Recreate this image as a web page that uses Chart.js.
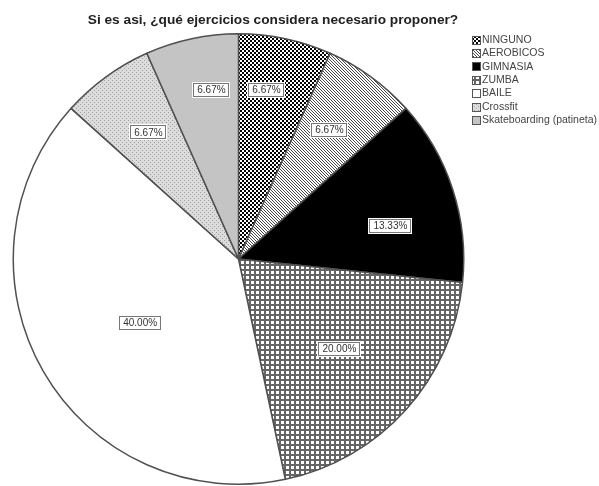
<!DOCTYPE html>
<html lang="es">
<head>
<meta charset="UTF-8">
<title>Ejercicios propuestos</title>
<script src="https://cdn.jsdelivr.net/npm/chart.js"></script>
<style>
  body { margin: 0; background: #fff; }
  canvas { display: block; }
</style>
</head>
<body>
<canvas id="torta" width="599" height="486"></canvas>
<script>
  const titulo = 'Si es asi, ¿qué ejercicios considera necesario proponer?';
  const categorias = ['NINGUNO', 'AEROBICOS', 'GIMNASIA', 'ZUMBA', 'BAILE', 'Crossfit', 'Skateboarding (patineta)'];
  const porcentajes = [6.67, 6.67, 13.33, 20.00, 40.00, 6.67, 6.67];

  // posicion de las etiquetas: fraccion del radio y ajuste de angulo (grados)
  const radioEtiqueta = [0.76, 0.70, 0.69, 0.60, 0.52, 0.69, 0.76];
  const ajusteAngulo = [-2.6, -0.8, 5.8, -0.3, -2.9, 0.6, 2.9];

  const lienzo = document.getElementById('torta');
  const ctx = lienzo.getContext('2d');

  function patron(w, h, dibujar) {
    const c = document.createElement('canvas');
    c.width = w;
    c.height = h;
    dibujar(c.getContext('2d'));
    return ctx.createPattern(c, 'repeat');
  }

  const fondos = [
    patron(4, 4, g => {
      g.fillStyle = '#000'; g.fillRect(0, 0, 4, 4);
      g.fillStyle = '#fff'; g.fillRect(0, 0, 2, 2); g.fillRect(2, 2, 2, 2);
    }),
    patron(3, 3, g => {
      g.fillStyle = '#fff'; g.fillRect(0, 0, 3, 3);
      g.fillStyle = '#4a4a4a';
      for (let i = 0; i < 3; i++) g.fillRect(i, i, 1, 1);
    }),
    '#000',
    patron(5, 5, g => {
      g.fillStyle = '#666'; g.fillRect(0, 0, 5, 5);
      g.fillStyle = '#fff'; g.fillRect(1, 1, 3, 3);
    }),
    '#fff',
    patron(4, 4, g => {
      g.fillStyle = '#dcdcdc'; g.fillRect(0, 0, 4, 4);
      g.fillStyle = '#a0a0a0'; g.fillRect(0, 0, 1, 1); g.fillRect(2, 2, 1, 1);
    }),
    '#c4c4c4'
  ];

  const etiquetas = {
    id: 'etiquetas',
    afterDatasetsDraw(chart) {
      const c = chart.ctx;
      const arcos = chart.getDatasetMeta(0).data;
      c.save();
      c.font = '10px "Liberation Sans", Arial, sans-serif';
      c.textAlign = 'center';
      c.textBaseline = 'middle';
      arcos.forEach((arco, i) => {
        const p = arco.getProps(['x', 'y', 'startAngle', 'endAngle', 'outerRadius'], true);
        const a = (p.startAngle + p.endAngle) / 2 + ajusteAngulo[i] * Math.PI / 180;
        const r = p.outerRadius * radioEtiqueta[i];
        const px = p.x + Math.cos(a) * r;
        const py = p.y + Math.sin(a) * r;
        const txt = porcentajes[i].toFixed(2) + '%';
        const w = Math.round(c.measureText(txt).width + 10);
        const h = 16;
        const x0 = Math.round(px - w / 2), y0 = Math.round(py - h / 2);
        c.fillStyle = '#fff';
        c.fillRect(x0, y0, w, h);
        c.strokeStyle = '#777';
        c.lineWidth = 1;
        c.strokeRect(x0 + 1.5, y0 + 1.5, w - 3, h - 3);
        c.fillStyle = '#333';
        c.fillText(txt, px, py + 0.5);
      });
      c.restore();
    },
    afterDraw(chart) {
      const c = chart.ctx;
      c.save();
      c.font = 'bold 13.7px "Liberation Sans", Arial, sans-serif';
      c.fillStyle = '#222';
      c.textAlign = 'center';
      c.textBaseline = 'middle';
      c.fillText(titulo, 273, 20);

      // leyenda
      c.font = '10.5px "Liberation Sans", Arial, sans-serif';
      c.textAlign = 'left';
      categorias.forEach((cat, i) => {
        const y = 40 + i * 13.4;
        const yy = Math.round(y - 4.5);
        c.fillStyle = fondos[i];
        c.fillRect(472, yy, 9, 9);
        c.strokeStyle = '#555';
        c.lineWidth = 1;
        c.strokeRect(472.5, yy + 0.5, 8, 8);
        c.fillStyle = '#444';
        c.fillText(cat, 482, y);
      });
      c.restore();
    }
  };

  new Chart(ctx, {
    type: 'pie',
    data: {
      labels: categorias,
      datasets: [{
        data: porcentajes,
        backgroundColor: fondos,
        borderColor: '#505050',
        borderWidth: 1.5
      }]
    },
    options: {
      responsive: false,
      animation: false,
      layout: { padding: { top: 33, left: 12, right: 134, bottom: 1 } },
      plugins: {
        legend: { display: false },
        title: { display: false },
        tooltip: { enabled: false }
      }
    },
    plugins: [etiquetas]
  });
</script>
</body>
</html>
